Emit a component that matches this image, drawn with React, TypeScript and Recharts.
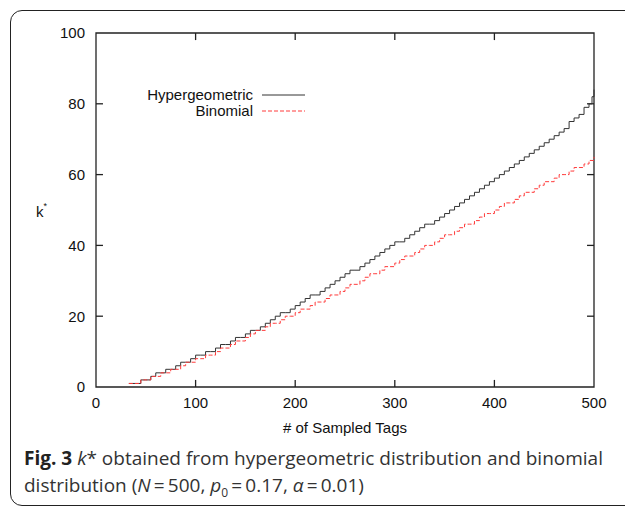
import React from "react";
import {
  LineChart,
  Line,
  XAxis,
  YAxis,
  ReferenceArea,
  ReferenceLine,
} from "recharts";

// sample sizes (# of sampled tags)
const sampledTags = [
  33, 40, 45, 50, 55, 60, 65, 70, 75, 80, 85, 90, 95, 100, 105, 110, 115, 120,
  125, 130, 135, 140, 145, 150, 155, 160, 165, 170, 175, 180, 185, 190, 195,
  200, 205, 210, 215, 220, 225, 230, 235, 240, 245, 250, 255, 260, 265, 270,
  275, 280, 285, 290, 295, 300, 305, 310, 315, 320, 325, 330, 335, 340, 345,
  350, 355, 360, 365, 370, 375, 380, 385, 390, 395, 400, 405, 410, 415, 420,
  425, 430, 435, 440, 445, 450, 455, 460, 465, 470, 475, 480, 485, 490, 495,
  498, 500,
];

const hypergeometric = [
  1, 1, 2, 2, 3, 4, 4, 5, 5, 6, 7, 7, 8, 9, 9, 10, 10, 11, 12, 12, 13, 14, 14,
  15, 16, 16, 17, 18, 19, 20, 21, 21, 22, 23, 24, 25, 26, 26, 27, 28, 29, 30,
  31, 32, 33, 33, 34, 35, 36, 37, 38, 39, 40, 41, 41, 42, 43, 44, 45, 46, 46,
  47, 48, 49, 50, 51, 52, 53, 54, 55, 56, 57, 58, 59, 60, 61, 62, 63, 64, 65,
  66, 67, 68, 69, 70, 71, 72, 73, 75, 76, 77, 79, 80, 82, 84,
];

const binomial = [
  1, 1, 2, 2, 3, 3, 4, 4, 5, 5, 6, 7, 7, 8, 8, 9, 9, 10, 11, 11, 12, 13, 13,
  14, 15, 16, 16, 17, 18, 18, 19, 20, 20, 21, 22, 22, 23, 24, 24, 25, 26, 26,
  27, 28, 29, 29, 30, 31, 32, 32, 33, 34, 34, 35, 36, 37, 37, 38, 39, 40, 40,
  41, 42, 43, 43, 44, 45, 46, 46, 47, 48, 49, 49, 50, 51, 52, 52, 53, 54, 55,
  55, 56, 57, 58, 58, 59, 60, 60, 61, 62, 62, 63, 64, 64, 65,
];

const xTicks = [0, 100, 200, 300, 400, 500];
const yTicks = [0, 20, 40, 60, 80, 100];
const xInner = [100, 200, 300, 400];
const yInner = [20, 40, 60, 80];

const data = sampledTags.map((n, i) => ({
  n,
  hyper: hypergeometric[i],
  binom: binomial[i],
}));

const FONT = "'Liberation Sans', Arial, Helvetica, sans-serif";
const AXIS = "#222";

function LegendBox() {
  const row = (label: string, color: string, dash?: string) => (
    <div style={{ display: "flex", alignItems: "center", height: 16 }}>
      <span style={{ width: 123, textAlign: "right", fontSize: 15, color: "#111" }}>
        {label}
      </span>
      <svg width={52} height={16}>
        <line x1={9} x2={52} y1={8} y2={8} stroke={color} strokeWidth={1} strokeDasharray={dash} />
      </svg>
    </div>
  );
  return (
    <div style={{ position: "absolute", left: 130, top: 87, fontFamily: FONT, lineHeight: "16px" }}>
      {row("Hypergeometric", "#333")}
      {row("Binomial", "#ff3b3b", "4 2")}
    </div>
  );
}

export default function App() {
  return (
    <div
      style={{
        position: "absolute",
        left: 0,
        top: 0,
        width: 625,
        height: 506,
        background: "#fff",
        overflow: "hidden",
        fontFamily: FONT,
      }}
    >
      <div
        style={{
          position: "absolute",
          left: 10,
          top: 10,
          width: 660,
          height: 494,
          border: "1.5px solid #222",
          borderRadius: 12,
        }}
      />
      <div style={{ position: "absolute", left: 0, top: 0 }}>
        <LineChart
          width={625}
          height={440}
          data={data}
          margin={{ top: 33, right: 31, left: 0, bottom: 3 }}
        >
          <XAxis
            dataKey="n"
            type="number"
            domain={[0, 500]}
            ticks={xTicks}
            axisLine={false}
            tickLine={false}
            tickSize={0}
            tickMargin={10}
            height={50}
            tick={{ fill: "#111", fontSize: 15, fontFamily: FONT }}
            label={{
              value: "# of Sampled Tags",
              position: "insideBottom",
              offset: 4,
              fill: "#111",
              fontSize: 15,
              fontFamily: FONT,
            }}
          />
          <YAxis
            type="number"
            domain={[0, 100]}
            ticks={yTicks}
            axisLine={false}
            tickLine={false}
            tickSize={0}
            tickMargin={11}
            width={96}
            tick={{ fill: "#111", fontSize: 15, fontFamily: FONT }}
          />
          <ReferenceArea
            x1={0}
            x2={500}
            y1={0}
            y2={100}
            fill="none"
            stroke={AXIS}
            strokeWidth={1.3}
          />
          {xInner.map((x) => (
            <ReferenceLine
              key={"xb" + x}
              segment={[{ x, y: 0 }, { x, y: 2 }]}
              stroke={AXIS}
              strokeWidth={1.3}
            />
          ))}
          {xInner.map((x) => (
            <ReferenceLine
              key={"xt" + x}
              segment={[{ x, y: 100 }, { x, y: 98 }]}
              stroke={AXIS}
              strokeWidth={1.3}
            />
          ))}
          {yInner.map((y) => (
            <ReferenceLine
              key={"yl" + y}
              segment={[{ x: 0, y }, { x: 7, y }]}
              stroke={AXIS}
              strokeWidth={1.3}
            />
          ))}
          {yInner.map((y) => (
            <ReferenceLine
              key={"yr" + y}
              segment={[{ x: 500, y }, { x: 493, y }]}
              stroke={AXIS}
              strokeWidth={1.3}
            />
          ))}
          <Line
            type="stepAfter"
            dataKey="hyper"
            name="Hypergeometric"
            stroke="#333"
            strokeWidth={1}
            dot={false}
            isAnimationActive={false}
          />
          <Line
            type="stepAfter"
            dataKey="binom"
            name="Binomial"
            stroke="#ff3b3b"
            strokeWidth={1}
            strokeDasharray="4 2"
            dot={false}
            isAnimationActive={false}
          />
        </LineChart>
      </div>
      <LegendBox />
      <div
        style={{
          position: "absolute",
          left: 36,
          top: 203,
          fontSize: 15,
          color: "#111",
        }}
      >
        k<sup style={{ fontSize: 9, verticalAlign: "top", position: "relative", top: -2 }}>*</sup>
      </div>
      <div
        style={{
          position: "absolute",
          left: 24,
          top: 445,
          width: 610,
          fontFamily: "'Open Sans', 'Noto Sans', sans-serif",
          fontSize: 19,
          lineHeight: "27px",
          color: "#333",
          whiteSpace: "nowrap",
        }}
      >
        <div>
          <b style={{ color: "#222" }}>Fig. 3</b> <i>k</i>* obtained from hypergeometric distribution and binomial
        </div>
        <div>
          distribution (<i>N</i>&thinsp;=&thinsp;500, <i>p</i>
          <sub style={{ fontSize: 12 }}>0</sub>&thinsp;=&thinsp;0.17, <i>α</i>&thinsp;=&thinsp;0.01)
        </div>
      </div>
    </div>
  );
}
